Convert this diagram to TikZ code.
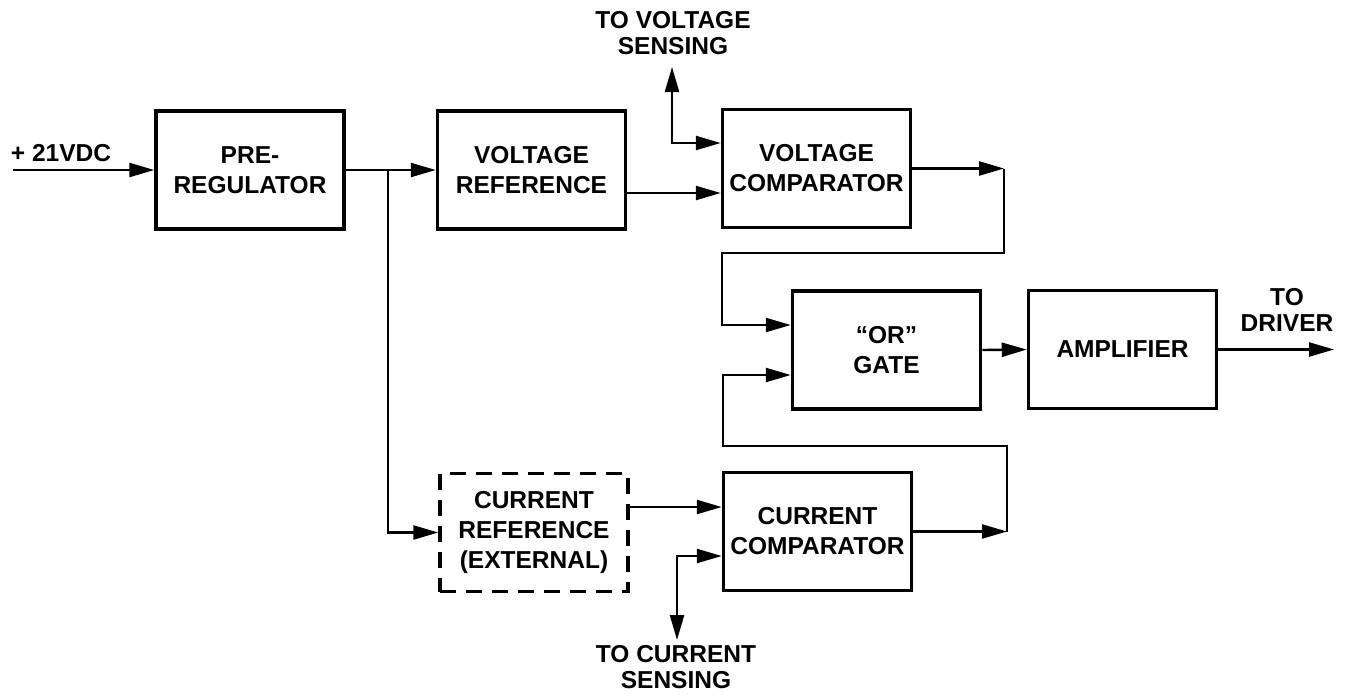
\documentclass[tikz,border=0pt]{standalone}
\usepackage{fontspec}
\setmainfont{Liberation Sans}
\usetikzlibrary{arrows.meta}
\begin{document}
\begin{tikzpicture}[x=1pt,y=-1pt,
  font=\bfseries\fontsize{24.5}{30}\selectfont,
  blk/.style={draw, line width=3.5pt, minimum width=188pt, minimum height=118pt, inner sep=0pt, align=center},
  dblk/.style={blk, dash pattern=on 16pt off 10pt},
  wire/.style={line width=2.4pt},
  arr/.style={wire, -{Triangle[length=25pt,width=14pt]}},
  darr/.style={wire, {Triangle[length=25pt,width=14pt]}-{Triangle[length=25pt,width=14pt]}},
  lbl/.style={align=center, inner sep=0pt, font=\bfseries\fontsize{24.5}{26}\selectfont}]
\useasboundingbox (0,0) rectangle (1346,694);

% blocks
\node[blk] (pre) at (250,170) {PRE-\\REGULATOR};
\node[blk] (vref) at (531.5,170) {VOLTAGE\\REFERENCE};
\node[blk] (vcomp) at (816.5,168.5) {VOLTAGE\\COMPARATOR};
\node[blk] (orgate) at (886.5,350) {“OR”\\GATE};
\node[blk] (amp) at (1122.5,349.5) {AMPLIFIER};
\node[dblk] (cref) at (534,532.5) {CURRENT\\REFERENCE\\(EXTERNAL)};
\node[blk] (ccomp) at (817.5,531.5) {CURRENT\\COMPARATOR};

% labels
\node[lbl] (vin) at (61,153) {+ 21VDC};
\node[lbl] (vsl) at (673,33) {TO VOLTAGE\\SENSING};
\node[lbl] (csl) at (676,667) {TO CURRENT\\SENSING};
\node[lbl] (drl) at (1287,310) {TO\\DRIVER};

% free ends and bends
\coordinate (inl) at (13,170);
\coordinate (br) at (388,170);
\coordinate (vs) at (672,67);
\coordinate (cs) at (677,640);
\coordinate (vc1) at (1004,168.5);
\coordinate (vc2) at (722,253);
\coordinate (cc1) at (1007,531.5);
\coordinate (cc2) at (723,446);
\coordinate (drv) at (1334,349.5);

% connectors
\draw[arr] (inl) -- (inl -| pre.west);
\draw[arr] (pre.east) -- (vref.west);
\draw[arr] (br) |- (cref.west);
\draw[arr] ([yshift=-23pt]vref.east) -- ([yshift=-23pt]vref.east -| vcomp.west);
\draw[darr] (vs) |- ([yshift=25.5pt]vcomp.west);
\draw[arr] ([yshift=25.5pt]cref.east) -- ([yshift=25.5pt]cref.east -| ccomp.west);
\draw[darr] (cs) |- ([yshift=-24.5pt]ccomp.west);
\draw[arr] (vcomp.east) -- (vc1);
\draw[arr] (vc1) |- (vc2) |- ([yshift=25pt]orgate.west);
\draw[arr] (ccomp.east) -- (cc1);
\draw[arr] (cc1) |- (cc2) |- ([yshift=-25pt]orgate.west);
\draw[arr] (orgate.east) -- (amp.west);
\draw[arr] (amp.east) -- (drv);
\end{tikzpicture}
\end{document}
